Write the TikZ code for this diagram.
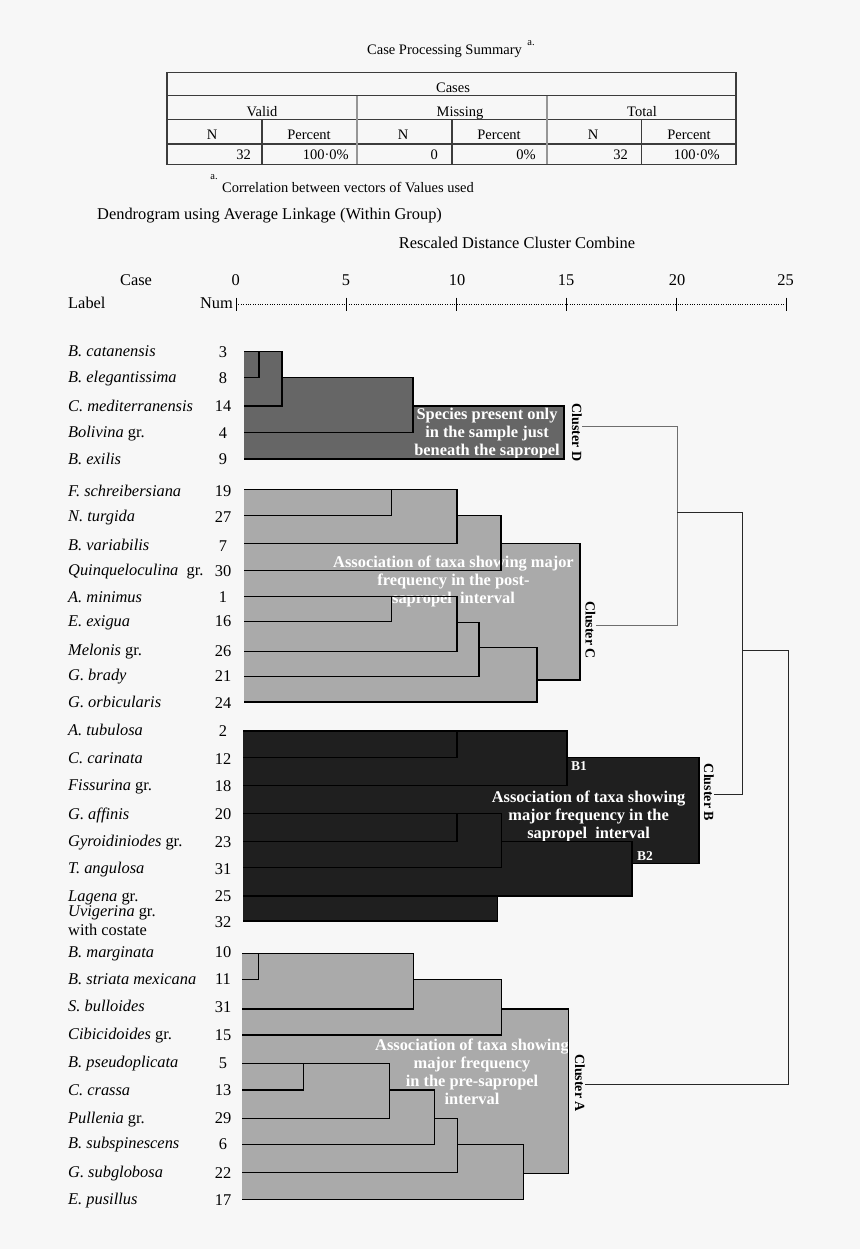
\documentclass[tikz,border=0pt]{standalone}
\usepackage{fontspec}
\setmainfont{Liberation Serif}
\definecolor{bg}{RGB}{247,247,247}
\definecolor{fillD}{RGB}{102,102,102}
\definecolor{fillC}{RGB}{170,170,170}
\definecolor{fillB}{RGB}{31,31,31}
\definecolor{tline}{RGB}{60,60,60}
\definecolor{tsep}{RGB}{150,150,150}
\definecolor{connD}{RGB}{110,110,110}
\definecolor{connB}{RGB}{40,40,40}
\begin{document}
\begin{tikzpicture}[x=1pt,y=-1pt,
  lab/.style={anchor=base west,yshift=-5pt,inner sep=0pt,font=\fontsize{16.4}{18}\selectfont},
  num/.style={anchor=base,yshift=-5.5pt,inner sep=0pt,font=\fontsize{16.4}{18}\selectfont},
  hdr/.style={anchor=base,yshift=-5pt,inner sep=0pt,font=\fontsize{16.4}{18}\selectfont},
  ttext/.style={anchor=base,yshift=-4.5pt,inner sep=0pt,font=\fontsize{14.5}{16}\selectfont},
  tnum/.style={anchor=base east,yshift=-4.8pt,inner sep=0pt,font=\fontsize{14.5}{16}\selectfont},
  supa/.style={inner sep=0pt,font=\fontsize{10.5}{12}\selectfont},
  dline/.style={line width=1.3pt,black,line join=miter},
  tl/.style={line width=1.2pt,tline},
  tg/.style={line width=2pt,tsep},
  wtext/.style={text=white,font=\bfseries\fontsize{16.4}{18}\selectfont,align=center,inner sep=0pt},
  clab/.style={font=\bfseries\fontsize{14}{16}\selectfont,rotate=-90,inner sep=0pt},
  blab/.style={text=white,anchor=west,font=\bfseries\fontsize{13.5}{15}\selectfont,inner sep=0pt},
  conn/.style={line width=1pt},
]
\fill[bg] (0,0) rectangle (860,1249);
\useasboundingbox (0,0) rectangle (860,1249);

% ---------- Case processing summary ----------
\node[ttext] (title) at (444.5,50) {Case Processing Summary};
\node[supa] (titlea) at (531,43) {a.};
\draw[tl] (167,72.5) rectangle (736,164.5);
\draw[tl] (167,95.7) -- (736,95.7);
\draw[tl] (167,119.3) -- (736,119.3);
\draw[tl] (167,144) -- (736,144);
\draw[tg] (357,95.7) -- (357,164.5);
\draw[tg] (547,95.7) -- (547,164.5);
\draw[tl] (262,119.3) -- (262,164.5);
\draw[tl] (452,119.3) -- (452,164.5);
\draw[tl] (641.5,119.3) -- (641.5,164.5);
\node[ttext] (cases) at (453,88) {Cases};
\node[ttext] (valid) at (262,112) {Valid};
\node[ttext] (missing) at (460,112) {Missing};
\node[ttext] (total) at (642,112) {Total};
\node[ttext] (n1) at (212,135) {N};
\node[ttext] (p1) at (309,135) {Percent};
\node[ttext] (n2) at (403,135) {N};
\node[ttext] (p2) at (499,135) {Percent};
\node[ttext] (n3) at (593,135) {N};
\node[ttext] (p3) at (689,135) {Percent};
\node[tnum] (v1) at (251,155) {32};
\node[tnum] (v2) at (349,155) {100·0\%};
\node[tnum] (v3) at (438,155) {0};
\node[tnum] (v4) at (536,155) {0\%};
\node[tnum] (v5) at (628,155) {32};
\node[tnum] (v6) at (720,155) {100·0\%};
\node[supa] (foota) at (214,177) {a.};
\node[ttext,anchor=base west] (foot) at (222,188) {Correlation between vectors of Values used};

% ---------- Dendrogram header ----------
\node[hdr,anchor=base west] (dtitle) at (97,215) {Dendrogram using Average Linkage (Within Group)};
\node[hdr] (resc) at (517,243) {Rescaled Distance Cluster Combine};
\node[hdr] (case) at (136,280) {Case};
\node[hdr,anchor=base west] (label) at (68,303.5) {Label};
\node[hdr,anchor=base east] (numh) at (233,303.5) {Num};
\foreach \v/\x in {0/235.6,5/346,10/457,15/566,20/677,25/785.5}
  \node[hdr] (t\v) at (\x,280) {\v};
\draw[line width=0.6pt,dash pattern=on 0.8pt off 1.6pt] (236,304) -- (786,304);
\foreach \x in {236,346,456,566,676,786}
  \draw[line width=0.9pt] (\x,297.5) -- (\x,311);

% ---------- Fills ----------
\fill[fillD] (244,351.7) -- (282,351.7) -- (282,377.7) -- (413,377.7) -- (413,406) -- (564,406) -- (564,459) -- (244,459) -- cycle;
\fill[fillC] (244,489.5) -- (457,489.5) -- (457,515.7) -- (501,515.7) -- (501,543.7) -- (580,543.7) -- (580,680) -- (537,680) -- (537,702) -- (244,702) -- cycle;
\fill[fillB] (243,731) -- (567,731) -- (567,757.3) -- (699,757.3) -- (699,863.3) -- (632,863.3) -- (632,896) -- (497.7,896) -- (497.7,921) -- (243,921) -- cycle;
\fill[fillC] (242,953.3) -- (413.6,953.3) -- (413.6,979.3) -- (501.7,979.3) -- (501.7,1009) -- (568.7,1009) -- (568.7,1173.3) -- (523.5,1173.3) -- (523.5,1199.3) -- (242,1199.3) -- cycle;

% ---------- Cluster texts ----------
\node[wtext] (tD) at (487,433.5) {Species present only\\in the sample just\\beneath the sapropel};
\node[wtext] (tC) at (453.5,581) {Association of taxa showing major\\frequency in the post-\\sapropel\ \ interval};
\node[wtext] (tB) at (588.6,816) {Association of taxa showing\\major frequency in the\\sapropel\ \ interval};
\node[wtext] (tA) at (472,1072) {Association of taxa showing\\major frequency\\in the pre-sapropel\\interval};
\node[blab] (b1) at (571,766.5) {B1};
\node[blab] (b2) at (637,856.5) {B2};

% ---------- Dendrogram lines ----------
% Cluster D
\draw[dline] (244,351.7) -- (282,351.7) -- (282,406) -- (244,406);
\draw[dline] (244,377.7) -- (259,377.7) -- (259,351.7);
\draw[dline] (282,377.7) -- (413,377.7) -- (413,432.7) -- (244,432.7);
\draw[dline] (413,406) -- (564,406) -- (564,459) -- (244,459);
% Cluster C
\draw[dline] (244,489.5) -- (457,489.5) -- (457,543.7) -- (244,543.7);
\draw[dline] (244,515.7) -- (391.7,515.7) -- (391.7,489.5);
\draw[dline] (457,515.7) -- (501,515.7) -- (501,570.7) -- (244,570.7);
\draw[dline] (501,543.7) -- (580,543.7) -- (580,680) -- (537,680);
\draw[dline] (244,596.7) -- (457,596.7) -- (457,651.7) -- (244,651.7);
\draw[dline] (244,621.7) -- (391.7,621.7) -- (391.7,596.7);
\draw[dline] (457,622.7) -- (479,622.7) -- (479,676.7) -- (244,676.7);
\draw[dline] (479,647.7) -- (537,647.7) -- (537,702) -- (244,702);
% Cluster B
\draw[dline] (243,731) -- (567,731) -- (567,785.7) -- (243,785.7);
\draw[dline] (243,757.3) -- (457,757.3) -- (457,731);
\draw[dline] (567,757.3) -- (699,757.3) -- (699,863.3) -- (632,863.3);
\draw[dline] (243,813.3) -- (501.5,813.3) -- (501.5,867.7) -- (243,867.7);
\draw[dline] (457,813.3) -- (457,841.7) -- (243,841.7);
\draw[dline] (501.5,841.7) -- (632,841.7) -- (632,896) -- (243,896);
\draw[dline] (497.7,896) -- (497.7,921) -- (243,921);
% Cluster A
\draw[dline] (242,953.3) -- (413.6,953.3) -- (413.6,1009) -- (242,1009);
\draw[dline] (242,979.3) -- (258.4,979.3) -- (258.4,953.3);
\draw[dline] (413.6,979.3) -- (501.7,979.3) -- (501.7,1035) -- (242,1035);
\draw[dline] (501.7,1009) -- (568.7,1009) -- (568.7,1173.3) -- (523.5,1173.3);
\draw[dline] (242,1063.3) -- (389.8,1063.3) -- (389.8,1118.3) -- (242,1118.3);
\draw[dline] (242,1090) -- (303.6,1090) -- (303.6,1063.3);
\draw[dline] (389.8,1090) -- (434.6,1090) -- (434.6,1144.3) -- (242,1144.3);
\draw[dline] (434.6,1118.3) -- (457.6,1118.3) -- (457.6,1172.7) -- (242,1172.7);
\draw[dline] (457.6,1144.3) -- (523.5,1144.3) -- (523.5,1199.3) -- (242,1199.3);

% ---------- Cluster labels and connectors ----------
\node[clab] (cD) at (577,432.5) {Cluster D};
\node[clab] (cC) at (590.5,630) {Cluster C};
\node[clab] (cB) at (709,792.5) {Cluster B};
\node[clab] (cA) at (580,1083) {Cluster A};
\coordinate (jD) at (677,426.7);
\coordinate (jC) at (677,625);
\coordinate (jDCm) at (677,512.7);
\coordinate (jDCB) at (742,512.7);
\coordinate (jB) at (742,794);
\coordinate (jBm) at (742,650);
\coordinate (jAt) at (788,650);
\coordinate (jA) at (788,1084);
\draw[conn,connD] (cD.north |- jD) -- (jD) -- (jC) -- (cC.north |- jC);
\draw[conn,connB] (jDCm) -- (jDCB) -- (jB) -- (cB.north |- jB);
\draw[conn,connB] (jBm) -- (jAt) -- (jA) -- (cA.north |- jA);

% ---------- Leaf labels ----------
\foreach \y/\t/\n [count=\i] in {
 351.7/{\textit{B. catanensis}}/3,
 377.7/{\textit{B. elegantissima}}/8,
 406/{\textit{C. mediterranensis}}/14,
 432.7/{\textit{Bolivina} gr.}/4,
 459/{\textit{B. exilis}}/9,
 491/{\textit{F. schreibersiana}}/19,
 516.5/{\textit{N. turgida}}/27,
 545.5/{\textit{B. variabilis}}/7,
 570.5/{\textit{Quinqueloculina}\ \ gr.}/30,
 597/{\textit{A. minimus}}/1,
 621/{\textit{E. exigua}}/16,
 650.5/{\textit{Melonis} gr.}/26,
 675.5/{\textit{G. brady}}/21,
 702.5/{\textit{G. orbicularis}}/24,
 730.5/{\textit{A. tubulosa}}/2,
 758.5/{\textit{C. carinata}}/12,
 785.7/{\textit{Fissurina} gr.}/18,
 814/{\textit{G. affinis}}/20,
 841.7/{\textit{Gyroidiniodes} gr.}/23,
 868.5/{\textit{T. angulosa}}/31,
 896/{\textit{Lagena} gr.}/25,
 952/{\textit{B. marginata}}/10,
 979.3/{\textit{B. striata mexicana}}/11,
 1006.5/{\textit{S. bulloides}}/31,
 1034.5/{\textit{Cibicidoides} gr.}/15,
 1062.5/{\textit{B. pseudoplicata}}/5,
 1090/{\textit{C. crassa}}/13,
 1118.3/{\textit{Pullenia} gr.}/29,
 1143.8/{\textit{B. subspinescens}}/6,
 1172.7/{\textit{G. subglobosa}}/22,
 1199.7/{\textit{E. pusillus}}/17}
{
  \node[lab] (l\i) at (68,\y) {\t};
  \node[num] (n\i) at (223,\y) {\n};
}
\node[lab] (luv) at (68,911.7) {\textit{Uvigerina} gr.};
\node[lab] (luv2) at (68,930) {with costate};
\node[num] (nuv) at (223,921.5) {32};
\end{tikzpicture}
\end{document}
